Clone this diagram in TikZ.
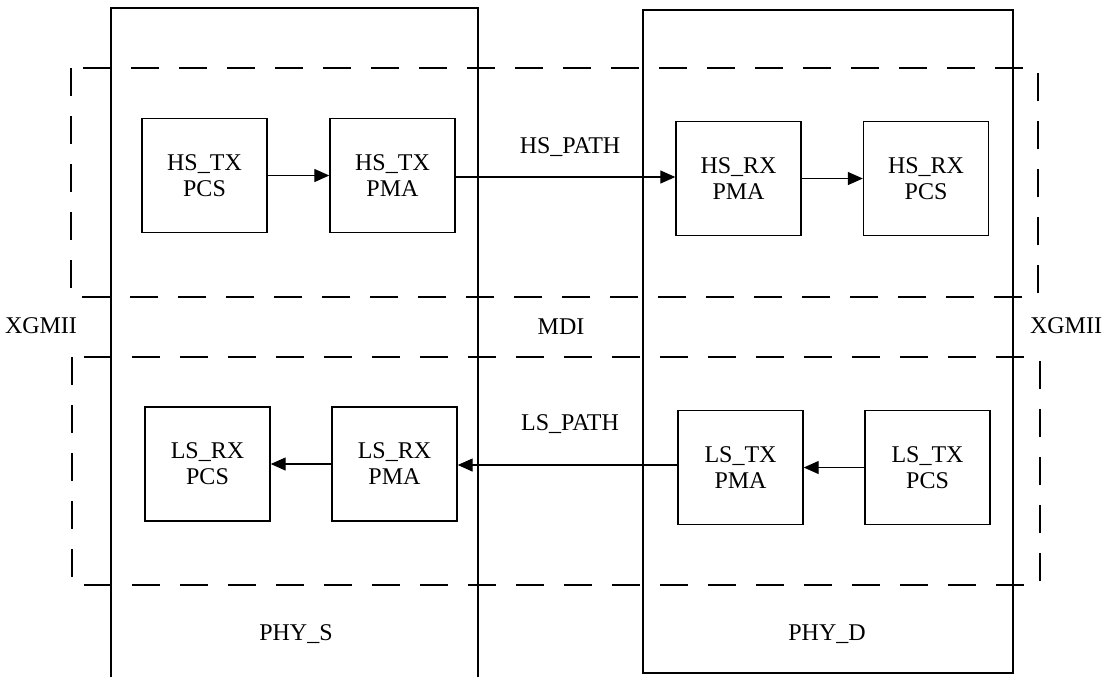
\documentclass[tikz,border=0pt]{standalone}
\usepackage{fontspec}
\setmainfont{Liberation Serif}
\usepackage{tikz}
\usetikzlibrary{arrows.meta}

\begin{document}
\begin{tikzpicture}[x=0.5pt,y=-0.5pt,
  blk/.style={draw,line width=0.7pt,minimum width=62.5pt,minimum height=57pt,
    align=center,font=\fontsize{12}{13}\selectfont},
  lbl/.style={font=\fontsize{12}{13}\selectfont},
  arr/.style={-{Triangle[length=7.5pt,width=6.5pt]},line width=0.6pt},
  zone/.style={dash pattern=on 14pt off 10pt,line width=0.6pt}]
\useasboundingbox (0,0) rectangle (1107,677);
% PHY blocks
\draw[line width=0.8pt] (111,677) -- (111,8) -- (478,8) -- (478,677);
\draw[line width=0.8pt] (643,10) rectangle (1013,673);
% XGMII / MDI zones
\draw[zone] (71,68) rectangle (1038,297);
\draw[zone] (72,357) rectangle (1040,585);
% high speed path
\node[blk] (hstxpcs) at (204.5,175.5) {HS\_TX\\PCS};
\node[blk] (hstxpma) at (392.5,175.5) {HS\_TX\\PMA};
\node[blk] (hsrxpma) at (738.5,178.5) {HS\_RX\\PMA};
\node[blk] (hsrxpcs) at (926,178.5) {HS\_RX\\PCS};
\draw[arr] (hstxpcs) -- (hstxpma);
\draw[arr] (hstxpma.east |- 0,177) -- (hsrxpma.west |- 0,177);
\draw[arr] (hsrxpma) -- (hsrxpcs);
% low speed path
\node[blk] (lsrxpcs) at (207.5,464) {LS\_RX\\PCS};
\node[blk] (lsrxpma) at (394.5,464) {LS\_RX\\PMA};
\node[blk] (lstxpma) at (740.5,467.5) {LS\_TX\\PMA};
\node[blk] (lstxpcs) at (927.5,467.5) {LS\_TX\\PCS};
\draw[arr] (lstxpcs) -- (lstxpma);
\draw[arr] (lstxpma.west |- 0,465) -- (lsrxpma.east |- 0,465);
\draw[arr] (lsrxpma) -- (lsrxpcs);
% labels
\node[lbl] (hspath) at (570,147) {HS\_PATH};
\node[lbl] (lspath) at (570,424) {LS\_PATH};
\node[lbl] (mdi) at (561,327) {MDI};
\node[lbl] (xgmiil) at (41,326) {XGMII};
\node[lbl] (xgmiir) at (1066,326) {XGMII};
\node[lbl] (phys) at (296,634) {PHY\_S};
\node[lbl] (phyd) at (827,634) {PHY\_D};
\end{tikzpicture}
\end{document}
